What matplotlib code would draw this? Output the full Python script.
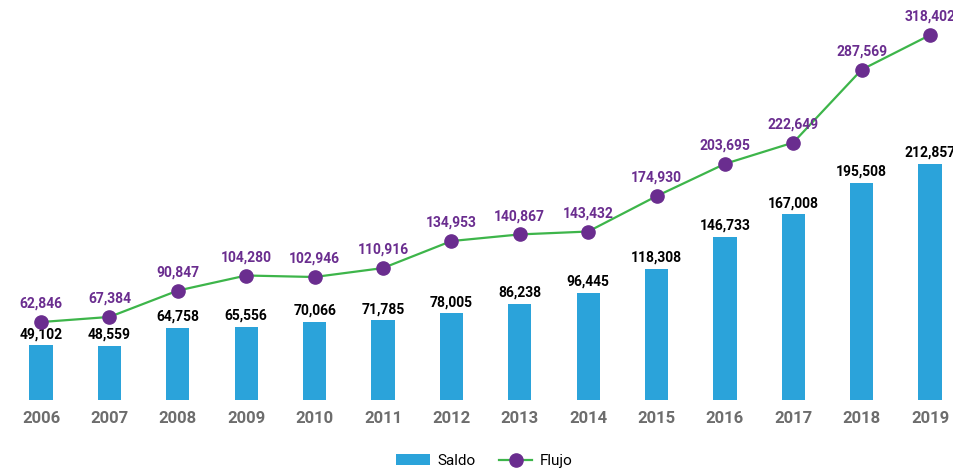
import matplotlib.pyplot as plt
import numpy as np

plt.rcParams['font.family'] = ['Roboto', 'DejaVu Sans']

years = ['2006', '2007', '2008', '2009', '2010', '2011', '2012',
         '2013', '2014', '2015', '2016', '2017', '2018', '2019']
saldo = [49102, 48559, 64758, 65556, 70066, 71785, 78005,
         86238, 96445, 118308, 146733, 167008, 195508, 212857]
flujo = [62846, 67384, 90847, 104280, 102946, 110916, 134953,
         140867, 143432, 174930, 203695, 222649, 287569, 318402]

BLUE = '#2ba3da'
GREEN = '#3db54a'
PURPLE = '#6a2d8f'


def main():
    fig = plt.figure(figsize=(9.54, 4.71), dpi=100)
    ax = fig.add_axes([0, 0.1507, 1, 0.8493])
    ax2 = ax.twinx()

    x = np.arange(len(years))

    # barras (Saldo)
    ax.bar(x, saldo, width=0.34, color=BLUE, label='Saldo', zorder=2)
    for xi, v in zip(x, saldo):
        ax.annotate(f'{v:,}', (xi, v), xytext=(0, 3), textcoords='offset points',
                    ha='center', va='bottom', fontsize=10, fontweight='bold',
                    color='black')

    # linea (Flujo)
    ax2.plot(x, flujo, color=GREEN, lw=1.6, marker='o', markersize=9.5,
             markerfacecolor=PURPLE, markeredgecolor=PURPLE, label='Flujo', zorder=3)
    for xi, v in zip(x, flujo):
        ax2.annotate(f'{v:,}', (xi, v), xytext=(0, 8), textcoords='offset points',
                     ha='center', va='bottom', fontsize=10, fontweight='bold',
                     color=PURPLE)

    ax.set_xlim(-0.6, 13.35)
    ax.set_ylim(0, 360000)
    ax2.set_ylim(-6590, 349600)

    for a in (ax, ax2):
        for s in a.spines.values():
            s.set_visible(False)
        a.set_yticks([])
    ax.set_xticks(x)
    ax.set_xticklabels(years, fontsize=12, fontweight='bold', color='#6d6d6d')
    ax.tick_params(axis='x', length=0, pad=8)

    h1, l1 = ax.get_legend_handles_labels()
    h2, l2 = ax2.get_legend_handles_labels()
    fig.legend(h1 + h2, l1 + l2, loc='center', bbox_to_anchor=(0.508, 0.021),
               ncol=2, frameon=False, fontsize=11, handlelength=2.2,
               columnspacing=1.5, handletextpad=0.5)

    fig.savefig('out.png', dpi=100)


if __name__ == "__main__":
    main()
